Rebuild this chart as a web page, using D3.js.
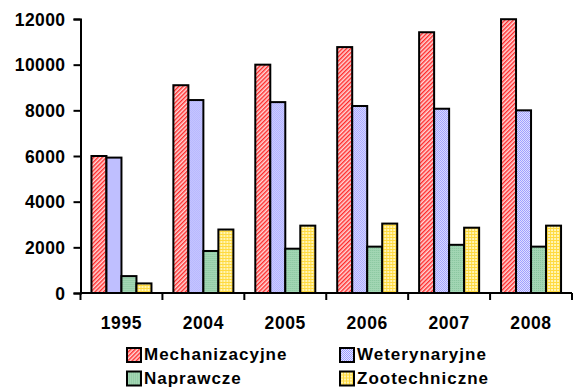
<!DOCTYPE html>
<html>
<head>
<meta charset="utf-8">
<script src="https://cdn.jsdelivr.net/npm/d3@7"></script>
<style>
  html, body { margin: 0; padding: 0; background: #fff; }
  svg text { font-family: "Liberation Sans", Arial, sans-serif; font-weight: bold; fill: #000; }
</style>
</head>
<body>
<svg id="chart" width="574" height="389"></svg>
<script>
// Years on the x axis
const years = ["1995", "2004", "2005", "2006", "2007", "2008"];
// Series names
const seriesNames = ["Mechanizacyjne", "Weterynaryjne", "Naprawcze", "Zootechniczne"];
// Values per series, one per year
const mechanizacyjne = [6000, 9100, 10000, 10770, 11420, 11990];
const weterynaryjne  = [5930, 8450, 8360, 8190, 8070, 8000];
const naprawcze      = [740, 1840, 1940, 2030, 2110, 2030];
const zootechniczne  = [420, 2780, 2950, 3040, 2860, 2950];
const yTicks = [0, 2000, 4000, 6000, 8000, 10000, 12000];

const seriesValues = [mechanizacyjne, weterynaryjne, naprawcze, zootechniczne];

const svg = d3.select("#chart");
const margin = { left: 80.5, right: 2, top: 19, bottom: 96 };
const W = 574, H = 389;
const x0 = margin.left, x1 = W - margin.right;
const yTop = margin.top, yBottom = H - margin.bottom;

// Fill patterns for each series
const defs = svg.append("defs");

const pRed = defs.append("pattern").attr("id", "pat0")
  .attr("patternUnits", "userSpaceOnUse").attr("width", 3).attr("height", 3)
  .attr("patternTransform", "rotate(45)");
pRed.append("rect").attr("width", 3).attr("height", 3).attr("fill", "#ffd6d6");
pRed.append("rect").attr("width", 1.4).attr("height", 3).attr("fill", "#ff2a2a");

const pBlue = defs.append("pattern").attr("id", "pat1")
  .attr("patternUnits", "userSpaceOnUse").attr("width", 2).attr("height", 2);
pBlue.append("rect").attr("width", 2).attr("height", 2).attr("fill", "#e4e4ff");
pBlue.append("rect").attr("width", 1).attr("height", 1).attr("fill", "#9a9aff");
pBlue.append("rect").attr("x", 1).attr("y", 1).attr("width", 1).attr("height", 1).attr("fill", "#9a9aff");

const pGreen = defs.append("pattern").attr("id", "pat2")
  .attr("patternUnits", "userSpaceOnUse").attr("width", 2).attr("height", 2);
pGreen.append("rect").attr("width", 2).attr("height", 2).attr("fill", "#a3d6b4");
pGreen.append("rect").attr("width", 1).attr("height", 1).attr("fill", "#86c49c");

const pYellow = defs.append("pattern").attr("id", "pat3")
  .attr("patternUnits", "userSpaceOnUse").attr("width", 3).attr("height", 3);
pYellow.append("rect").attr("width", 3).attr("height", 3).attr("fill", "#fff5b8");
pYellow.append("rect").attr("width", 3).attr("height", 1).attr("fill", "#ffda40");
pYellow.append("rect").attr("width", 1).attr("height", 3).attr("fill", "#ffda40");

const fills = ["url(#pat0)", "url(#pat1)", "url(#pat2)", "url(#pat3)"];

// Scales
const x = d3.scaleBand().domain(years).range([x0, x1]).paddingInner(0).paddingOuter(0);
const inner = d3.scaleBand().domain(d3.range(seriesNames.length))
  .range([0, x.bandwidth()]).paddingOuter(0.73).paddingInner(0);
const y = d3.scaleLinear().domain([0, 12000]).range([yBottom, yTop]);

// Bars
const groups = svg.append("g").selectAll("g")
  .data(years).join("g")
  .attr("transform", d => `translate(${x(d)},0)`);

groups.selectAll("rect")
  .data((d, i) => seriesValues.map((vals, s) => ({ s, v: vals[i] })))
  .join("rect")
  .attr("x", d => inner(d.s))
  .attr("width", inner.bandwidth())
  .attr("y", d => y(d.v))
  .attr("height", d => y(0) - y(d.v))
  .attr("fill", d => fills[d.s])
  .attr("stroke", "#000")
  .attr("stroke-width", 2);

// Y axis
const yAxis = svg.append("g")
  .attr("transform", `translate(${x0},0)`)
  .call(d3.axisLeft(y).tickValues(yTicks).tickSize(7).tickPadding(8).tickFormat(d3.format("d")));
yAxis.select(".domain").attr("stroke", "#000").attr("stroke-width", 2);
yAxis.selectAll(".tick line").attr("stroke", "#000").attr("stroke-width", 2);
yAxis.selectAll("text").style("font-size", "17.5px").style("letter-spacing", "0.4px").attr("dy", "0.36em");

// X axis with ticks at category boundaries
const xAxis = svg.append("g").attr("transform", `translate(0,${yBottom})`);
xAxis.append("line").attr("x1", x0).attr("x2", x1).attr("stroke", "#000").attr("stroke-width", 2);
const boundaries = years.map(d => x(d)).concat([x1]);
xAxis.selectAll("line.tk").data(boundaries).join("line").attr("class", "tk")
  .attr("x1", d => d).attr("x2", d => d).attr("y1", 0).attr("y2", 7)
  .attr("stroke", "#000").attr("stroke-width", 2);
xAxis.selectAll("text").data(years).join("text")
  .attr("x", d => x(d) + x.bandwidth() / 2)
  .attr("y", 35.5)
  .attr("text-anchor", "middle")
  .style("font-size", "17.5px")
  .style("letter-spacing", "0.6px")
  .text(d => d);

// Legend
const legendPos = [[127, 348], [340, 348], [127, 371.5], [340, 371.5]];
const legend = svg.append("g").selectAll("g")
  .data(seriesNames).join("g")
  .attr("transform", (d, i) => `translate(${legendPos[i][0]},${legendPos[i][1]})`);
legend.append("rect")
  .attr("width", 14).attr("height", 14)
  .attr("fill", (d, i) => fills[i])
  .attr("stroke", "#000").attr("stroke-width", 2);
legend.append("text")
  .attr("x", 17).attr("y", 12)
  .style("font-size", "17px")
  .style("letter-spacing", "1px")
  .text(d => d);
</script>
</body>
</html>
